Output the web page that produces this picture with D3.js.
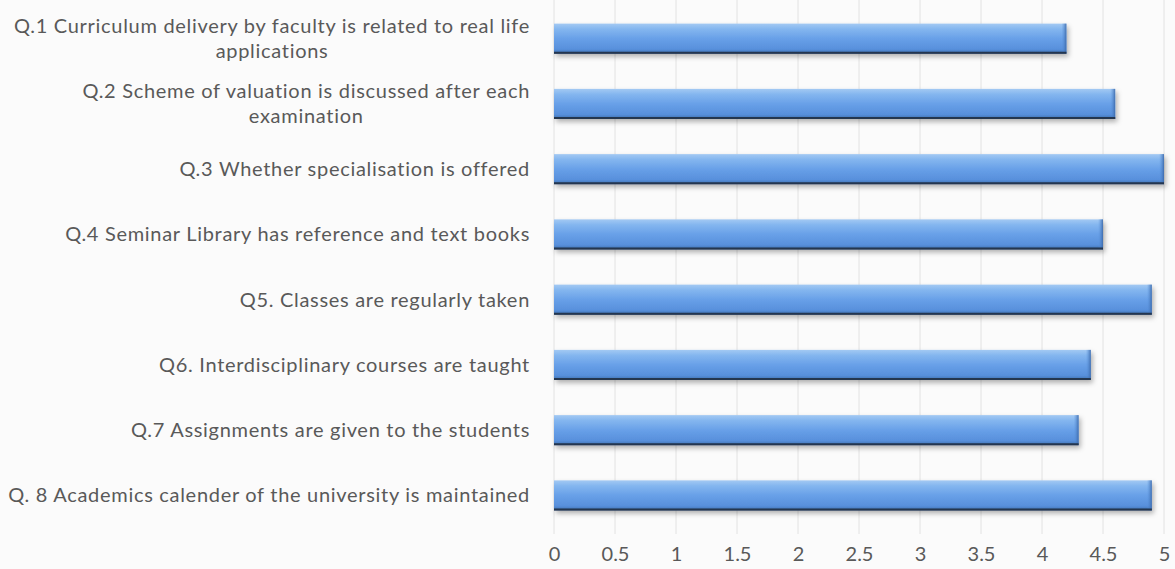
<!DOCTYPE html>
<html><head><meta charset="utf-8">
<script src="https://cdn.jsdelivr.net/npm/d3@7"></script>
<style>
html,body{margin:0;padding:0;background:#fbfbfb;}
svg{display:block;}
</style></head>
<body>
<svg id="chart" width="1175" height="569"></svg>
<script>
const categories = [
  "Q.1 Curriculum delivery by faculty is related to real life|applications",
  "Q.2 Scheme of valuation is discussed after each|examination",
  "Q.3 Whether specialisation is offered",
  "Q.4 Seminar Library has reference and text books",
  "Q5. Classes are regularly taken",
  "Q6. Interdisciplinary courses are taught",
  "Q.7 Assignments are given to the students",
  "Q. 8 Academics calender of the university is maintained"
];
const values = [4.2, 4.6, 5.0, 4.5, 4.9, 4.4, 4.3, 4.9];
const tickValues = [0, 0.5, 1, 1.5, 2, 2.5, 3, 3.5, 4, 4.5, 5];
const tickLabels = ["0", "0.5", "1", "1.5", "2", "2.5", "3", "3.5", "4", "4.5", "5"];

const svg = d3.select("#chart");
const font = "Lato, 'Liberation Sans', sans-serif";
const textColor = "#595959";

const x = d3.scaleLinear().domain([0, 5]).range([554, 1164]);
const y = d3.scaleBand().domain(categories).range([6, 528]).paddingInner(0.54).paddingOuter(0.27);

const defs = svg.append("defs");
const grad = defs.append("linearGradient").attr("id", "barGrad").attr("x1", 0).attr("y1", 0).attr("x2", 0).attr("y2", 1);
[[0, "#a3c9f3"], [0.18, "#84b6ef"], [0.5, "#68a0e8"], [0.85, "#5890dc"], [0.93, "#4a7fc4"], [1, "#2e4e78"]]
  .forEach(([o, c]) => grad.append("stop").attr("offset", o).attr("stop-color", c));
const endGrad = defs.append("linearGradient").attr("id", "endGrad").attr("x1", 0).attr("y1", 0).attr("x2", 1).attr("y2", 0);
[[0, "#5a93dc", 0], [1, "#3a67a8", 0.9]]
  .forEach(([o, c, op]) => endGrad.append("stop").attr("offset", o).attr("stop-color", c).attr("stop-opacity", op));
const f = defs.append("filter").attr("id", "shadow").attr("x", "-5%").attr("y", "-30%").attr("width", "110%").attr("height", "180%");
f.append("feDropShadow").attr("dx", 2).attr("dy", 3).attr("stdDeviation", 2.5).attr("flood-color", "#000").attr("flood-opacity", 0.3);

// gridlines
svg.append("g").selectAll("line").data(tickValues).join("line")
  .attr("x1", d => x(d)).attr("x2", d => x(d))
  .attr("y1", 0).attr("y2", 534)
  .attr("stroke", "#e2e2e2").attr("stroke-width", 1);

// x axis tick labels
const xAxis = d3.axisBottom(x).tickValues(tickValues).tickFormat((d, i) => tickLabels[i]).tickSize(0).tickPadding(0);
const gx = svg.append("g").attr("transform", "translate(0,547)").call(xAxis);
gx.select(".domain").remove();
gx.selectAll("text").attr("font-family", font).attr("font-size", 20).attr("fill", textColor).attr("dy", "0.71em");

// bars
const bars = svg.append("g").selectAll("g").data(categories).join("g");
bars.append("rect")
  .attr("x", x(0)).attr("y", d => y(d))
  .attr("width", (d, i) => x(values[i]) - x(0))
  .attr("height", y.bandwidth())
  .attr("fill", "url(#barGrad)")
  .attr("filter", "url(#shadow)");
bars.append("rect")
  .attr("x", (d, i) => x(values[i]) - 5).attr("y", d => y(d))
  .attr("width", 5).attr("height", y.bandwidth())
  .attr("fill", "url(#endGrad)");
bars.append("line")
  .attr("x1", x(0)).attr("x2", (d, i) => x(values[i]))
  .attr("y1", d => y(d) + y.bandwidth() - 1).attr("y2", d => y(d) + y.bandwidth() - 1)
  .attr("stroke", "#24364f").attr("stroke-width", 2);

// category labels
const labelRight = 530;
const lineH = 25;
const lg = svg.append("g");
categories.forEach(c => {
  const lines = c.split("|");
  const cy = y(c) + y.bandwidth() / 2;
  const t = lg.append("text").attr("font-family", font).attr("font-size", 20)
    .attr("letter-spacing", "0.7px").attr("fill", textColor);
  const spans = lines.map((l, i) => t.append("tspan").text(l)
    .attr("y", cy + (i - (lines.length - 1) / 2) * lineH).attr("dy", "0.35em"));
  const widths = spans.map(s => s.node().getComputedTextLength());
  const maxW = d3.max(widths);
  const center = labelRight - maxW / 2;
  spans.forEach(s => s.attr("x", center).attr("text-anchor", "middle"));
});
</script>
</body></html>
